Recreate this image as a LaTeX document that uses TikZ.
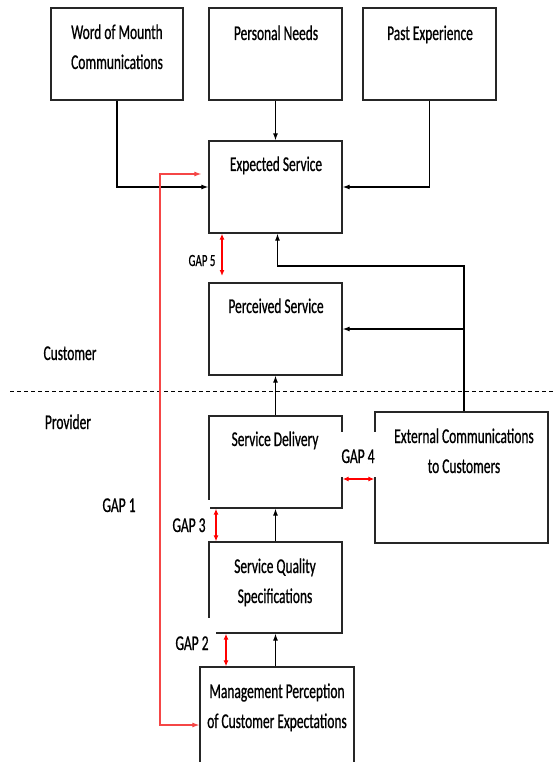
\documentclass[tikz,border=0pt]{standalone}
\usepackage{fontspec}
\setmainfont{Carlito}[FakeStretch=0.64,FakeBold=0.7]
\usetikzlibrary{arrows.meta}
\definecolor{routered}{RGB}{245,70,70}
\newcommand\lstrut{\rule[-5pt]{0pt}{20pt}}
\begin{document}
\begin{tikzpicture}[x=1pt,y=-1pt,
  box/.style={draw=black!85, line width=1.3pt, inner sep=0pt, rectangle},
  txt/.style={font=\fontsize{21}{30}\selectfont, inner sep=0pt, align=center, text=black},
  gapfill/.style={fill=white, inner sep=0pt, font=\fontsize{21}{30}\selectfont, text depth=0pt},
  arr/.style={draw=black, line width=1.1pt, -{Latex[length=7pt,width=5pt]}},
  gaparr/.style={draw=red, line width=1.2pt, {Latex[length=6pt,width=5pt]}-{Latex[length=6pt,width=5pt]}},
  route/.style={draw=routered, line width=1.1pt, {Latex[length=7pt,width=5pt]}-{Latex[length=7pt,width=5pt]}},
  divider/.style={draw=black, line width=1pt, dash pattern=on 4pt off 3pt}
]
\fill[white] (0,0) rectangle (556,762);
\useasboundingbox (0,0) rectangle (556,762);

% boxes
\node[box, minimum width=132pt, minimum height=92pt] (WoM) at (117,54) {};
\node[box, minimum width=133pt, minimum height=92pt] (PN) at (275.5,54) {};
\node[box, minimum width=133pt, minimum height=92pt] (PE) at (429.5,54) {};
\node[box, minimum width=133pt, minimum height=92pt] (ES) at (275.5,187) {};
\node[box, minimum width=133pt, minimum height=92pt] (PS) at (275.5,329) {};
\node[box, minimum width=133pt, minimum height=92pt] (SD) at (275.5,462) {};
\node[box, minimum width=173pt, minimum height=131pt] (Ext) at (461.5,477.5) {};
\node[box, minimum width=133pt, minimum height=91pt] (SQS) at (275.5,587.5) {};
\node[box, minimum width=154pt, minimum height=108pt] (Mgmt) at (277,721) {};

% gap labels with white backgrounds
\node[gapfill, minimum width=42pt, minimum height=45pt, text height=17pt] (G4) at (358,454.5) {GAP 4};
\node[gapfill, minimum width=42pt, minimum height=40pt, text height=24pt] (G3) at (189,520) {GAP 3};
\node[gapfill, minimum width=48pt, minimum height=44pt, text height=20pt] (G2) at (192,640) {GAP 2};
\node[font=\fontsize{17}{20}\selectfont, inner sep=0pt, anchor=base] (G5) at (202,266) {GAP 5};
\node[txt] (G1) at (119,507) {\lstrut GAP 1};
\node[txt] (cust) at (70,355) {\lstrut Customer};
\node[txt] (prov) at (68,424) {\lstrut Provider};

% box texts
\node[txt] (WoMt) at (117,49) {\lstrut Word of Mounth\\\lstrut Communications};
\node[txt] (PNt) at (276,35) {\lstrut Personal Needs};
\node[txt] (PEt) at (430,35) {\lstrut Past Experience};
\node[txt] (ESt) at (276,166) {\lstrut Expected Service};
\node[txt] (PSt) at (276,308) {\lstrut Perceived Service};
\node[txt] (SDt) at (275,441) {\lstrut Service Delivery};
\node[txt] (Extt) at (464,453) {\lstrut External Communications\\\lstrut to Customers};
\node[txt] (SQSt) at (275,583) {\lstrut Service Quality\\\lstrut Specifications};
\node[txt] (Mgmtt) at (277,708) {\lstrut Management Perception\\\lstrut of Customer Expectations};

% divider
\coordinate (dl) at (10,391);
\coordinate (dr) at (556,391);
\draw[divider] (dl) -- (dr);

% black connectors
\draw[arr] (WoM.south) |- (ES.west);
\draw[arr] (PN.south) -- (ES.north);
\draw[arr] (PE.south) |- (ES.east);
\coordinate (bend) at (464,266);
\draw[arr] (Ext.north -| bend) -- (bend) -| ([xshift=2pt]ES.south);
\draw[arr] (PS.east -| bend) -- (PS.east);
\draw[arr] (SD.north) -- (PS.south);
\draw[arr] (SQS.north) -- (SD.south);
\draw[arr] (Mgmt.north -| SQS.south) -- (SQS.south);

% red GAP 1 route
\coordinate (r1) at (160,174);
\coordinate (r2) at (160,725);
\draw[route] ([xshift=-7pt]ES.west |- r1) -- (r1) -- (r2) -- (r2 -| Mgmt.west);

% gap arrows
\coordinate (g5) at (222,276);
\draw[gaparr] (g5 |- ES.south) -- (g5);
\coordinate (g4) at (358,479);
\draw[gaparr] (g4 -| SD.east) -- (g4 -| Ext.west);
\coordinate (g3) at (216,525);
\draw[gaparr] (g3 |- SD.south) -- (g3 |- SQS.north);
\coordinate (g2) at (226,650);
\draw[gaparr] (g2 |- SQS.south) -- (g2 |- Mgmt.north);
\end{tikzpicture}
\end{document}
